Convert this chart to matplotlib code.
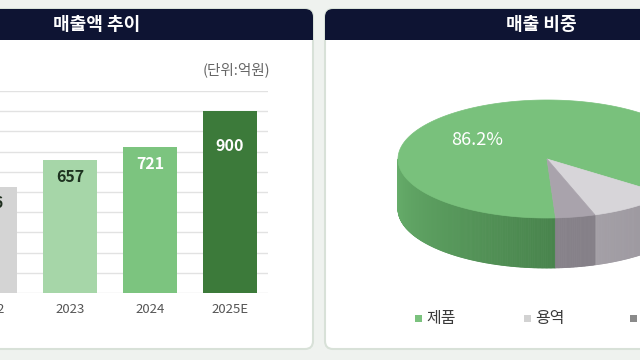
import numpy as np
import matplotlib
matplotlib.use('Agg')
import matplotlib.pyplot as plt
from matplotlib.patches import FancyBboxPatch, Rectangle, Polygon
from matplotlib.collections import PolyCollection

plt.rcParams['font.family'] = ['Noto Sans CJK KR', 'DejaVu Sans']

# sales trend (unit: 100M KRW)
years = ['2022', '2023', '2024', '2025E']
sales = [526, 657, 721, 900]
bar_colors = ['#d4d4d4', '#a6d6a8', '#7cc47f', '#3c7a3a']
label_colors = ['#1e2e1e', '#1e3320', 'white', 'white']

# sales share (%)
seg_names = ['제품', '용역', '기타']
seg_share = [86.2, 9.5, 4.3]
seg_top = ['#79c17c', '#d7d5d9', '#a9a3ac']
seg_side_l = ['#68af6c', '#c4c1c6', '#99949c']
seg_side_r = ['#2b5c2f', '#8f8a92', '#77727a']
legend_colors = ['#7bc27e', '#d2d2d2', '#8a8a8a']

fig = plt.figure(figsize=(6.4, 3.6), dpi=100, facecolor='#eff2ef')

# background layer in pixel units
bg = fig.add_axes([0, 0, 1, 1])
bg.set_xlim(0, 640)
bg.set_ylim(360, 0)
bg.axis('off')

navy = '#0e1433'


def panel(x0, x1, title):
    bg.add_patch(FancyBboxPatch((x0, 9), x1 - x0, 340,
                                boxstyle='round,pad=0,rounding_size=8',
                                fc='white', ec='#d8e1d8', lw=1.5))
    bg.add_patch(FancyBboxPatch((x0, 9), x1 - x0, 31,
                                boxstyle='round,pad=0,rounding_size=8',
                                fc=navy, ec='none'))
    bg.add_patch(Rectangle((x0, 26), x1 - x0, 14, fc=navy, ec='none'))
    bg.text((x0 + x1) / 2, 25, title, color='white', fontsize=13,
            fontweight='bold', ha='center', va='center')


panel(-120, 313, '매출액 추이')
panel(325, 758, '매출 비중')

bg.text(270, 70, '(단위:억원)', ha='right', va='center', fontsize=10.5, color='#666666')

# ---- bar chart ----
ax = fig.add_axes([-48 / 640, 67 / 360, 316 / 640, 202 / 360])
ax.set_facecolor('none')
x = np.arange(len(years))
ax.bar(x, sales, width=0.667, color=bar_colors, zorder=2)
ax.set_xlim(-0.475, 3.475)
ax.set_ylim(0, 1000)
ax.set_yticks(np.arange(0, 1001, 100))
ax.yaxis.grid(True, color='#e2e2e2', lw=1)
ax.set_axisbelow(True)
for s in ax.spines.values():
    s.set_visible(False)
ax.tick_params(axis='y', left=False, labelleft=False)
ax.tick_params(axis='x', length=0, pad=7, labelsize=9.5, labelcolor='#555555')
ax.set_xticks(x)
ax.set_xticklabels(years)

offsets = [80, 82, 82, 172]
for i, v in enumerate(sales):
    ax.text(i, v - offsets[i], str(v), ha='center', va='center', fontsize=11.5,
            fontweight='bold', color=label_colors[i], zorder=3)

# ---- 3d pie ----
cx, cy, rx, ry, depth = 547, 159, 149, 59, 50
theta0 = 273.3  # slices go clockwise from here


def rim(th):
    t = np.radians(th)
    return cx + rx * np.cos(t), cy - ry * np.sin(t)


def mix(c1, c2, t):
    a = np.array(matplotlib.colors.to_rgb(c1))
    b = np.array(matplotlib.colors.to_rgb(c2))
    return tuple(a + (b - a) * t)


bounds = []
hi = theta0
for share in seg_share:
    lo = hi - share * 3.6
    bounds.append((lo, hi))
    hi = lo

# side walls
quads, cols = [], []
for k, (lo, hi) in enumerate(bounds):
    ths = np.linspace(lo, hi, max(int((hi - lo) * 2), 4))
    for a, b in zip(ths[:-1], ths[1:]):
        m = (a + b) / 2
        if np.sin(np.radians(m)) >= 0:
            continue
        xa, ya = rim(a)
        xb, yb = rim(b)
        quads.append([(xa, ya), (xb, yb), (xb, yb + depth), (xa, ya + depth)])
        t = ((m % 360) - 180) / 180
        cols.append(mix(seg_side_l[k], seg_side_r[k], t))
bg.add_collection(PolyCollection(quads, facecolors=cols, edgecolors=cols, lw=0.6))

# top faces
for k, (lo, hi) in enumerate(bounds):
    ths = np.linspace(lo, hi, 200)
    px, py = rim(ths)
    pts = [(cx, cy)] + list(zip(px, py))
    bg.add_patch(Polygon(pts, closed=True, fc=seg_top[k], ec=seg_top[k], lw=0.5))

bg.text(477, 140, f'{seg_share[0]}%', color='white', fontsize=13,
        ha='center', va='center')

# legend
for name, c, lx in zip(seg_names, legend_colors, [418, 527, 633]):
    bg.add_patch(Rectangle((lx - 3.5, 314.5), 7, 7, fc=c, ec='none'))
    bg.text(lx + 8, 318, name, ha='left', va='center', fontsize=11.5, color='#3a3a3a')

fig.savefig('out.png', dpi=100, facecolor=fig.get_facecolor())
